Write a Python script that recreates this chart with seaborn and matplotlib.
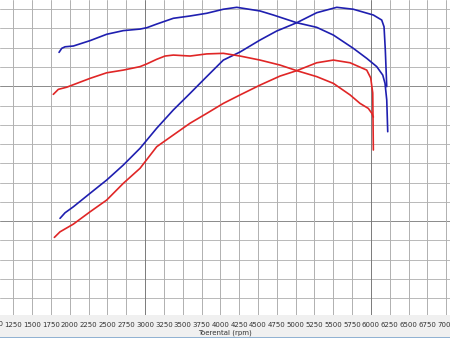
import matplotlib
matplotlib.use("Agg")
import matplotlib.pyplot as plt
import seaborn as sns
import pandas as pd
from matplotlib.lines import Line2D

sns.set_theme(style="white")
plt.rcParams['font.family'] = ['DejaVu Sans']

# Blue torque curve (tuned)
bt_rpm = [1858, 1894, 1938, 2048, 2270, 2491, 2712, 2934, 3023, 3155, 3376, 3598, 3819, 4040, 4218,
          4527, 4704, 5015, 5280, 5501, 5766, 5944, 6077, 6157, 6187, 6210, 6223]
bt_val = [137.6, 139.7, 140.5, 140.9, 143.7, 147.0, 148.9, 149.7, 150.4, 152.3, 155.3, 156.5, 157.9, 160.0, 161.0,
          159.1, 157.0, 153.0, 150.6, 146.6, 139.7, 134.5, 130.2, 125.8, 121.5, 112.9, 96.4]

# Blue power curve (tuned)
bp_rpm = [1871, 1938, 2048, 2270, 2491, 2712, 2934, 3155, 3376, 3598, 3819, 4040, 4262, 4527, 4749,
          5015, 5280, 5546, 5766, 6032, 6143, 6174, 6191, 6210]
bp_val = [51.4, 54.3, 57.4, 64.4, 71.3, 79.1, 87.8, 98.2, 107.7, 116.3, 125.0, 133.6, 137.8, 144.0, 148.7,
          153.0, 158.2, 161.0, 160.0, 157.0, 154.4, 150.9, 138.8, 119.8]

# Red torque curve (stock)
rt_rpm = [1782, 1849, 1960, 2270, 2491, 2712, 2934, 3023, 3155, 3266, 3376, 3598, 3819, 4040, 4262,
          4527, 4793, 5015, 5280, 5501, 5723, 5855, 5965, 6011, 6032]
rt_val = [115.8, 118.4, 119.5, 124.1, 127.0, 128.4, 130.2, 131.6, 134.0, 135.7, 136.2, 135.7, 136.8, 137.1, 135.7,
          133.6, 131.0, 128.1, 125.0, 121.5, 115.5, 111.1, 108.5, 106.0, 104.0]

# Red power curve (stock)
rp_rpm = [1796, 1871, 2048, 2270, 2491, 2712, 2934, 3155, 3376, 3598, 3819, 4040, 4262, 4527, 4793,
          5015, 5280, 5501, 5723, 5944, 5997, 6024, 6032]
rp_val = [41.5, 44.4, 48.4, 54.8, 60.9, 69.6, 77.4, 88.6, 94.7, 100.8, 105.9, 111.1, 115.5, 120.6, 125.3,
          128.1, 132.2, 133.6, 132.2, 128.4, 124.3, 116.5, 86.9]

x_ticks = list(range(1000, 7001, 250))
x_label = "Toerental (rpm)"

fig = plt.figure(figsize=(4.5, 3.38), dpi=100)
fig.patch.set_facecolor("#f0f0f0")
ax = fig.add_axes([0, 23 / 338, 1, 1 - 23 / 338])
ax.set_facecolor("white")

blue = "#1f1fb0"
red = "#e02626"
for xs, ys, col in [(bt_rpm, bt_val, blue), (bp_rpm, bp_val, blue),
                    (rt_rpm, rt_val, red), (rp_rpm, rp_val, red)]:
    df = pd.DataFrame({"rpm": xs, "val": ys})
    sns.lineplot(data=df, x="rpm", y="val", sort=False, estimator=None,
                 color=col, lw=1.2, ax=ax, zorder=3)

# grid
for v in range(10, 161, 10):
    c = "#8a8a8a" if v in (50, 120) else "#b8b8b8"
    ax.axhline(v, color=c, lw=0.7, zorder=0)
for r in x_ticks:
    c = "#7a7a7a" if r in (3000, 6000) else "#b0b0b0"
    ax.axvline(r, color=c, lw=0.7, zorder=0)

ax.set_xticks(x_ticks)
ax.set_xticklabels([str(t) for t in x_ticks], fontsize=5, color="#333333")
ax.tick_params(axis="x", length=0, pad=5)
ax.set_yticks([])
ax.set_xlabel("")
ax.set_ylabel("")
ax.set_xlim(1074, 7050)
ax.set_ylim(1.2, 164.8)
for s in ax.spines.values():
    s.set_visible(False)

# first tick label, partly outside the visible range as in the original
ax.text(x_ticks[0], -0.0285, str(x_ticks[0]), transform=ax.get_xaxis_transform(),
        ha="center", va="center", fontsize=5, color="#333333", clip_on=False)

fig.text(0.5, 5 / 338, x_label, ha="center", va="center", fontsize=5, color="#333333")
fig.add_artist(Line2D([0, 1], [0.5 / 338, 0.5 / 338], transform=fig.transFigure,
                      color="#7fa6cc", lw=1.2))

fig.savefig("out.png", dpi=100)
